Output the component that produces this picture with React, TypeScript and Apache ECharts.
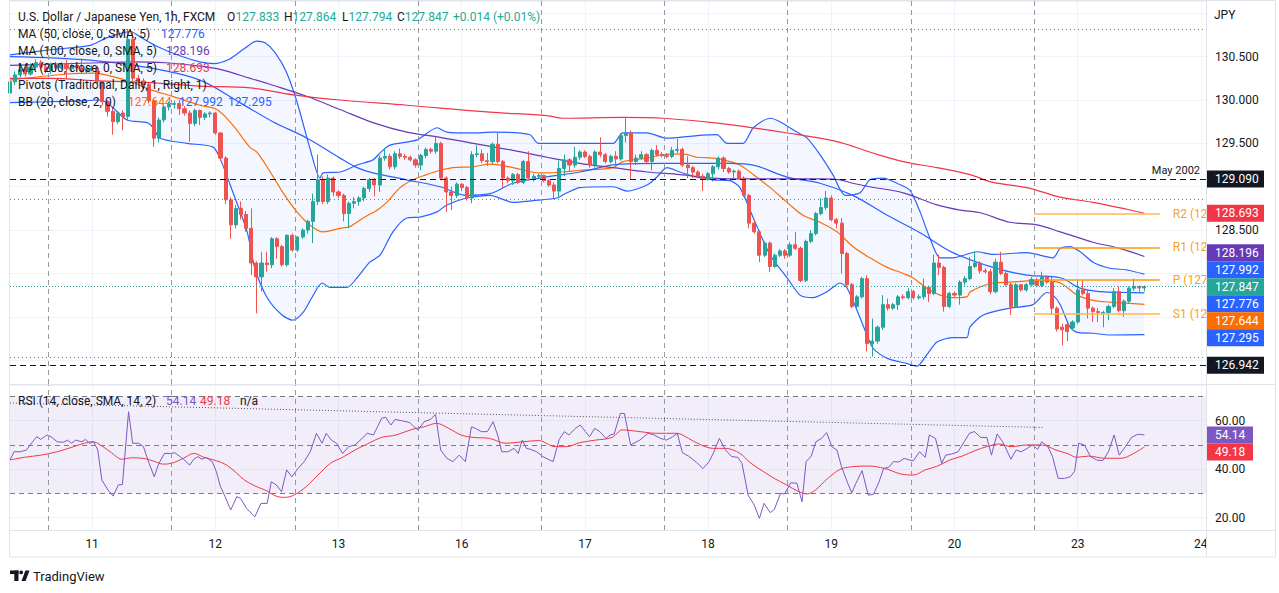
import { useEffect, useRef } from 'react';
import * as echarts from 'echarts';

const FONT = 'Roboto, "Noto Sans", sans-serif';
const INK = '#131722';
const GRID_LINE = '#F0F3FA';
const FRAME = '#E0E3EB';
const UP = '#26A69A';
const DOWN = '#EF5350';
const BLUE = '#2962FF';
const PURPLE = '#673AB7';
const RED = '#F23645';
const ORANGE = '#FF6D00';
const RSI_COLOR = '#7E57C2';
const PIVOT_COLOR = '#F7A21B';
const TEAL_TEXT = '#22AB94';

// hourly slots on the time axis, slot 0 = first (clipped) candle
const SLOT_COUNT = 234;
const SLOTS = Array.from({ length: SLOT_COUNT }, (_, i) => String(i));
const DAY_TICKS = [16, 40, 64, 88, 112, 136, 160, 184, 208, 232];
const DAY_LABELS = ['11', '12', '13', '16', '17', '18', '19', '20', '23', '24'];
const SESSION_BREAKS = [7.5, 31.5, 55.5, 79.5, 103.5, 127.5, 151.5, 175.5, 199.5];

// [open, close, low, high]
const CANDLES = [
  [130.08, 130.21, 130.04, 130.25], [130.21, 130.29, 130.17, 130.33], [130.29, 130.35, 130.26, 130.40],
  [130.35, 130.30, 130.27, 130.38], [130.30, 130.38, 130.28, 130.42], [130.38, 130.43, 130.35, 130.47],
  [130.43, 130.38, 130.35, 130.46], [130.38, 130.34, 130.31, 130.41], [130.34, 130.40, 130.30, 130.43],
  [130.40, 130.37, 130.33, 130.44], [130.37, 130.41, 130.35, 130.44], [130.41, 130.36, 130.24, 130.46],
  [130.36, 130.40, 130.33, 130.43], [130.40, 130.37, 130.34, 130.42], [130.37, 130.33, 130.30, 130.48],
  [130.33, 130.36, 130.31, 130.39], [130.36, 130.37, 130.33, 130.40], [130.37, 130.21, 130.19, 130.39],
  [130.21, 129.98, 129.94, 130.22], [129.98, 129.87, 129.81, 130.00], [129.87, 129.75, 129.60, 129.90],
  [129.75, 129.85, 129.72, 129.87], [129.85, 129.81, 129.65, 129.88], [129.81, 130.70, 129.76, 130.82],
  [130.70, 130.25, 130.20, 130.78], [130.25, 130.22, 130.17, 130.29], [130.22, 130.18, 130.12, 130.25],
  [130.18, 129.99, 129.96, 130.20], [129.99, 129.56, 129.46, 130.01], [129.56, 129.77, 129.51, 129.80],
  [129.77, 129.92, 129.74, 129.95], [129.92, 129.95, 129.88, 129.98], [129.95, 129.96, 129.90, 129.99],
  [129.96, 129.90, 129.83, 130.00], [129.90, 129.85, 129.82, 129.93], [129.85, 129.73, 129.52, 129.88],
  [129.73, 129.88, 129.70, 129.90], [129.88, 129.80, 129.71, 129.89], [129.80, 129.84, 129.77, 129.86],
  [129.84, 129.85, 129.80, 129.87], [129.85, 129.62, 129.60, 129.86], [129.62, 129.33, 129.30, 129.63],
  [129.33, 128.85, 128.80, 129.35], [128.85, 128.56, 128.40, 128.88], [128.56, 128.75, 128.52, 128.79],
  [128.75, 128.68, 128.62, 128.83], [128.68, 128.52, 128.48, 128.72], [128.52, 128.12, 127.98, 128.75],
  [128.12, 127.96, 127.54, 128.14], [127.96, 128.12, 127.79, 128.25], [128.12, 128.10, 128.02, 128.25],
  [128.10, 128.40, 128.06, 128.42], [128.40, 128.31, 128.17, 128.42], [128.31, 128.10, 128.08, 128.33],
  [128.10, 128.44, 128.08, 128.45], [128.44, 128.27, 128.25, 128.46], [128.27, 128.42, 128.25, 128.43],
  [128.42, 128.50, 128.40, 128.52], [128.50, 128.60, 128.46, 128.62], [128.60, 128.83, 128.35, 128.92],
  [128.83, 129.08, 128.79, 129.37], [129.08, 128.83, 128.80, 129.12], [128.83, 129.10, 128.80, 129.14],
  [129.10, 128.94, 128.89, 129.12], [128.94, 128.90, 128.87, 128.96], [128.90, 128.69, 128.60, 128.92],
  [128.69, 128.81, 128.52, 128.83], [128.81, 128.83, 128.75, 128.88], [128.83, 128.87, 128.78, 128.89],
  [128.87, 128.98, 128.83, 129.00], [128.98, 129.08, 128.94, 129.10], [129.08, 129.02, 128.89, 129.10],
  [129.02, 129.33, 128.94, 129.36], [129.33, 129.35, 129.30, 129.44], [129.35, 129.23, 129.20, 129.38],
  [129.23, 129.38, 129.20, 129.41], [129.38, 129.35, 129.32, 129.44], [129.35, 129.34, 129.31, 129.38],
  [129.34, 129.31, 129.29, 129.36], [129.31, 129.25, 129.22, 129.33], [129.25, 129.36, 129.19, 129.38],
  [129.36, 129.43, 129.33, 129.45], [129.43, 129.41, 129.38, 129.45], [129.41, 129.50, 129.38, 129.58],
  [129.50, 129.10, 129.08, 129.52], [129.10, 128.94, 128.71, 129.12], [128.94, 128.90, 128.73, 129.00],
  [128.90, 129.03, 128.87, 129.05], [129.03, 128.99, 128.95, 129.04], [128.99, 128.87, 128.84, 129.01],
  [128.87, 129.37, 128.81, 129.41], [129.37, 129.38, 129.34, 129.48], [129.38, 129.30, 129.27, 129.43],
  [129.30, 129.29, 129.24, 129.39], [129.29, 129.49, 129.26, 129.51], [129.49, 129.29, 129.27, 129.63],
  [129.29, 129.10, 128.99, 129.31], [129.10, 129.07, 129.04, 129.12], [129.07, 129.14, 129.02, 129.16],
  [129.14, 129.05, 129.03, 129.16], [129.05, 129.29, 129.03, 129.31], [129.29, 129.10, 129.08, 129.41],
  [129.10, 129.12, 129.06, 129.15], [129.12, 129.13, 129.10, 129.15], [129.13, 129.07, 129.05, 129.14],
  [129.07, 129.02, 129.00, 129.09], [129.02, 128.95, 128.87, 129.05], [128.95, 129.21, 128.87, 129.30],
  [129.21, 129.31, 129.12, 129.37], [129.31, 129.25, 129.17, 129.33], [129.25, 129.34, 129.22, 129.46],
  [129.34, 129.40, 129.31, 129.42], [129.40, 129.35, 129.33, 129.42], [129.35, 129.25, 129.22, 129.37],
  [129.25, 129.40, 129.22, 129.42], [129.40, 129.37, 129.34, 129.57], [129.37, 129.29, 129.27, 129.39],
  [129.29, 129.35, 129.27, 129.37], [129.35, 129.32, 129.21, 129.41], [129.32, 129.59, 129.30, 129.62],
  [129.59, 129.62, 129.51, 129.79], [129.62, 129.29, 129.08, 129.65], [129.29, 129.33, 129.25, 129.37],
  [129.33, 129.37, 129.31, 129.41], [129.37, 129.29, 129.27, 129.39], [129.29, 129.42, 129.19, 129.44],
  [129.42, 129.37, 129.35, 129.48], [129.37, 129.36, 129.34, 129.40], [129.36, 129.35, 129.33, 129.39],
  [129.35, 129.42, 129.33, 129.46], [129.42, 129.43, 129.39, 129.55], [129.43, 129.25, 129.23, 129.45],
  [129.25, 129.22, 129.10, 129.35], [129.22, 129.17, 129.10, 129.24], [129.17, 129.12, 129.10, 129.19],
  [129.12, 129.09, 128.95, 129.15], [129.09, 129.15, 129.07, 129.17], [129.15, 129.23, 129.06, 129.25],
  [129.23, 129.33, 129.20, 129.35], [129.33, 129.21, 129.17, 129.35], [129.21, 129.17, 129.15, 129.23],
  [129.17, 129.18, 129.08, 129.20], [129.18, 129.10, 129.08, 129.20], [129.10, 128.90, 128.88, 129.12],
  [128.90, 128.58, 128.52, 128.92], [128.58, 128.48, 128.46, 128.62], [128.48, 128.21, 128.13, 128.50],
  [128.21, 128.35, 128.19, 128.37], [128.35, 128.08, 128.02, 128.37], [128.08, 128.21, 128.06, 128.23],
  [128.21, 128.26, 128.19, 128.28], [128.26, 128.21, 128.17, 128.28], [128.21, 128.33, 128.19, 128.36],
  [128.33, 128.29, 128.27, 128.48], [128.29, 127.92, 127.90, 128.31], [127.92, 128.37, 127.90, 128.39],
  [128.37, 128.46, 128.35, 128.50], [128.46, 128.69, 128.44, 128.71], [128.69, 128.76, 128.67, 128.87],
  [128.76, 128.87, 128.73, 128.95], [128.87, 128.62, 128.60, 128.90], [128.62, 128.58, 128.52, 128.64],
  [128.58, 128.23, 128.00, 128.64], [128.23, 127.87, 127.85, 128.25], [127.87, 127.62, 127.60, 127.89],
  [127.62, 127.73, 127.60, 127.75], [127.73, 127.94, 127.71, 127.96], [127.94, 127.19, 127.10, 127.98],
  [127.19, 127.22, 127.04, 127.48], [127.22, 127.38, 127.19, 127.40], [127.38, 127.64, 127.35, 127.75],
  [127.64, 127.60, 127.57, 127.71], [127.60, 127.64, 127.58, 127.66], [127.64, 127.73, 127.58, 127.75],
  [127.73, 127.72, 127.70, 127.76], [127.72, 127.79, 127.70, 127.83], [127.79, 127.72, 127.70, 127.81],
  [127.72, 127.73, 127.70, 127.76], [127.73, 127.84, 127.70, 127.94], [127.84, 127.77, 127.67, 127.86],
  [127.77, 128.12, 127.75, 128.22], [128.12, 128.07, 127.98, 128.22], [128.07, 127.62, 127.56, 128.09],
  [127.62, 127.77, 127.60, 127.79], [127.77, 127.75, 127.73, 127.79], [127.75, 127.90, 127.64, 127.92],
  [127.90, 127.94, 127.86, 127.97], [127.94, 128.08, 127.92, 128.19], [128.08, 128.12, 128.06, 128.25],
  [128.12, 128.03, 128.00, 128.14], [128.03, 128.02, 128.00, 128.06], [128.02, 127.79, 127.76, 128.05],
  [127.79, 128.13, 127.77, 128.17], [128.13, 128.00, 127.98, 128.25], [128.00, 127.87, 127.85, 128.02],
  [127.87, 127.62, 127.52, 127.89], [127.62, 127.87, 127.60, 127.89], [127.87, 127.81, 127.79, 127.88],
  [127.81, 127.87, 127.79, 127.89], [127.87, 127.93, 127.85, 127.96], [127.93, 127.86, 127.84, 127.95],
  [127.86, 127.96, 127.84, 128.02], [127.96, 127.90, 127.88, 127.98], [127.90, 127.60, 127.52, 127.96],
  [127.60, 127.36, 127.33, 127.62], [127.38, 127.35, 127.17, 127.42], [127.41, 127.33, 127.22, 127.43],
  [127.37, 127.44, 127.35, 127.46], [127.44, 127.81, 127.42, 127.92], [127.81, 127.77, 127.75, 127.92],
  [127.77, 127.60, 127.48, 127.81], [127.60, 127.56, 127.44, 127.62], [127.56, 127.55, 127.44, 127.60],
  [127.54, 127.55, 127.38, 127.57], [127.55, 127.62, 127.46, 127.64], [127.62, 127.79, 127.60, 127.83],
  [127.79, 127.57, 127.55, 127.85], [127.57, 127.68, 127.50, 127.70], [127.68, 127.83, 127.66, 127.85],
  [127.83, 127.85, 127.80, 127.94], [127.85, 127.833, 127.77, 127.86], [127.833, 127.847, 127.794, 127.864],
];

// indicator readings as [slot, value]
const BB_UPPER = [
  [0, 130.52], [7.8, 130.58], [15.6, 130.63], [18.9, 130.72], [23.5, 130.79], [25.3, 130.73], [28.6, 130.62],
  [33.1, 130.51], [37, 130.44], [39.7, 130.42], [42.7, 130.47], [45.8, 130.6], [48.1, 130.68], [49.7, 130.66],
  [51.6, 130.55], [53.8, 130.33], [55.9, 129.98], [58.4, 129.45], [60.4, 129.1], [61, 129.16], [64.3, 129.17],
  [67.6, 129.25], [70.7, 129.31], [72.1, 129.39], [74, 129.48], [79.3, 129.54], [83.2, 129.68], [85.1, 129.63],
  [90.2, 129.62], [94.1, 129.63], [101.3, 129.6], [102.9, 129.5], [111, 129.5], [117.5, 129.5], [119.4, 129.62],
  [124.1, 129.62], [128, 129.56], [133.8, 129.59], [137.7, 129.6], [139.7, 129.5], [142.8, 129.5], [144.8, 129.68],
  [148.1, 129.79], [150, 129.75], [153.3, 129.63], [155.3, 129.56], [157.8, 129.37], [160.3, 129.14],
  [162.7, 128.9], [165.6, 128.93], [167.5, 129.08], [170.1, 129.1], [172.8, 129.04], [175.3, 128.96],
  [177.3, 128.71], [179.2, 128.41], [181.2, 128.18], [183.7, 128.18], [188.4, 128.25], [191.5, 128.22],
  [198.1, 128.24], [203.2, 128.18], [204.6, 128.29], [206.5, 128.31], [208.5, 128.25], [211, 128.13],
  [214.3, 128.06], [217.6, 128.04], [221, 127.992],
];
const BB_LOWER = [
  [0, 129.97], [7.8, 129.98], [14.2, 129.99], [17.5, 130.0], [19.5, 129.94], [22.8, 129.77], [26.7, 129.74],
  [27.9, 129.68], [29.2, 129.56], [34.5, 129.5], [39.5, 129.46], [40.9, 129.33], [43.4, 128.94], [46.2, 128.48],
  [47.7, 128.06], [50.1, 127.72], [53, 127.52], [55.1, 127.46], [57.1, 127.55], [58.8, 127.72], [60.8, 127.89],
  [62.3, 127.84], [65.7, 127.84], [67.6, 127.95], [70.1, 128.13], [72.1, 128.21], [74.6, 128.48], [77.3, 128.64],
  [79.9, 128.65], [83.2, 128.71], [85.1, 128.79], [89, 128.87], [93.5, 128.9], [98, 128.82], [101.9, 128.84],
  [106.6, 128.87], [108.5, 128.93], [111, 128.99], [117.5, 129.0], [120.2, 128.95], [124.1, 129.02], [126, 129.11],
  [128, 129.22], [130.5, 129.17], [133.8, 129.11], [137, 129.08], [140.3, 129.07], [142.2, 128.99], [144.8, 128.64],
  [148.1, 128.21], [151.4, 127.95], [153.9, 127.75], [156.4, 127.72], [159.2, 127.79], [161.7, 127.89],
  [163.1, 127.83], [165.6, 127.49], [168.1, 127.14], [170.9, 127.02], [174.8, 126.96], [176.7, 126.93],
  [178.6, 127.06], [180.6, 127.21], [183.7, 127.26], [186.4, 127.26], [187, 127.38], [189.6, 127.52],
  [194.8, 127.6], [199.3, 127.64], [202, 127.78], [203.2, 127.75], [204.6, 127.64], [206.5, 127.38],
  [207.9, 127.32], [211, 127.31], [214.3, 127.29], [221, 127.295],
];
const BB_BASIS = [
  [0, 130.23], [11.1, 130.3], [16.2, 130.31], [20.1, 130.27], [24, 130.2], [27.3, 130.12], [31.8, 130.04],
  [37, 129.94], [40.3, 129.89], [43.4, 129.71], [46.8, 129.45], [48.1, 129.4], [50.7, 129.17], [53.2, 128.93],
  [55.9, 128.71], [58.4, 128.56], [61, 128.48], [64.3, 128.52], [66.2, 128.54], [68.8, 128.64], [71.5, 128.73],
  [73.4, 128.82], [76, 128.99], [78.5, 129.08], [81.2, 129.14], [83.8, 129.19], [86.3, 129.22], [90.2, 129.23],
  [93.5, 129.26], [98, 129.22], [103.3, 129.16], [107.7, 129.17], [111, 129.19], [117.5, 129.22], [119.4, 129.29],
  [124.1, 129.33], [127.2, 129.37], [131.1, 129.38], [133.8, 129.34], [137, 129.33], [140.3, 129.29],
  [142.2, 129.25], [144.8, 129.14], [148.1, 128.99], [151.4, 128.82], [154.5, 128.67], [157.8, 128.59],
  [161.1, 128.48], [164.2, 128.31], [167.5, 128.18], [170.9, 128.07], [174, 128.0], [175.9, 127.95],
  [178.6, 127.83], [181.2, 127.75], [183.7, 127.72], [186.4, 127.73], [187.1, 127.79], [191.5, 127.89],
  [194.8, 127.9], [201.1, 127.92], [204.6, 127.89], [207.9, 127.75], [211, 127.69], [214.3, 127.67], [221, 127.644],
];
const MA50 = [
  [0, 130.5], [15.6, 130.46], [27.3, 130.37], [37, 130.23], [44.8, 129.97], [51.2, 129.75], [57.9, 129.56],
  [64.3, 129.33], [67.6, 129.22], [70.7, 129.16], [77.3, 129.08], [83.8, 129.0], [89, 128.9], [93.5, 128.92],
  [98, 129.04], [103.3, 129.1], [111, 129.17], [118.8, 129.26], [127.2, 129.27], [133.8, 129.27], [140.3, 129.27],
  [144.8, 129.25], [151.4, 129.11], [157.8, 129.04], [164.2, 128.9], [170.9, 128.67], [177.3, 128.47],
  [183.7, 128.24], [191.5, 128.07], [198.1, 127.98], [204.6, 127.95], [208.5, 127.83], [212.4, 127.79],
  [217.6, 127.78], [221, 127.776],
];
const MA100 = [
  [0, 130.4], [17.5, 130.43], [24, 130.44], [30.2, 130.43], [37, 130.39], [41.1, 130.35], [46.8, 130.25],
  [51.2, 130.17], [57.9, 130.04], [64.3, 129.89], [70.7, 129.74], [77.3, 129.63], [83.8, 129.57], [90.2, 129.5],
  [98, 129.42], [104.6, 129.34], [111, 129.27], [117.5, 129.22], [124.1, 129.17], [130.5, 129.14], [137, 129.1],
  [144.8, 129.09], [151.4, 129.09], [157.8, 129.09], [161.7, 129.08], [164.2, 129.04], [167.5, 129.0],
  [174, 128.93], [180.6, 128.79], [185.1, 128.73], [189, 128.7], [194.8, 128.59], [200.1, 128.56],
  [204.6, 128.48], [211, 128.36], [216.2, 128.29], [221, 128.196],
];
const MA200 = [
  [0, 130.25], [7.8, 130.25], [17.5, 130.22], [27.3, 130.2], [37, 130.16], [46.8, 130.14], [55.1, 130.06],
  [64.3, 130.0], [77.3, 129.94], [93.5, 129.86], [104.6, 129.82], [107.7, 129.79], [119.4, 129.8], [127.2, 129.79],
  [138.3, 129.73], [151.4, 129.62], [161.1, 129.52], [167.5, 129.4], [174, 129.29], [180.6, 129.22],
  [187, 129.14], [191.5, 129.05], [198.1, 128.99], [204.6, 128.88], [211, 128.82], [217.6, 128.74], [221, 128.693],
];
const RSI = [
  [0, 43.8], [0.8, 47.2], [2, 47.2], [3.2, 47.9], [4.4, 51.3], [5.2, 53.4], [6, 52.3], [7.2, 54.1], [8, 53.4],
  [9.2, 51.3], [10.4, 51.1], [11.2, 52.0], [12, 50.7], [12.8, 52.0], [14, 51.3], [14.7, 52.3], [15.5, 50.7],
  [16.3, 51.3], [17.1, 47.9], [17.9, 35.5], [19.1, 31.4], [20.1, 28.9], [21.1, 33.5], [21.9, 33.7], [23.1, 63.7],
  [23.9, 50.7], [25.1, 50.7], [26, 49.3], [27.1, 42.4], [28.1, 36.9], [29, 42.4], [30.1, 46.5], [31.3, 46.5],
  [32.1, 46.8], [33, 45.4], [33.8, 44.1], [35, 41.7], [35.8, 44.1], [36.6, 45.2], [37.4, 44.1], [38.2, 44.9],
  [39.4, 43.1], [40.2, 39.0], [41, 32.8], [41.9, 28.7], [43, 23.2], [44.2, 28.7], [44.9, 28.0], [46.1, 23.8],
  [47.7, 20.4], [48.9, 25.9], [50.1, 25.9], [50.9, 34.8], [51.9, 33.5], [52.9, 30.7], [53.9, 39.7], [54.9, 36.9],
  [56.1, 40.3], [57.3, 43.1], [58.5, 47.2], [59.7, 54.8], [60.8, 50.7], [61.6, 54.8], [62.6, 52.0], [63.6, 50.7],
  [64.8, 46.5], [66, 49.3], [67.2, 50.0], [68.4, 52.3], [69.6, 54.8], [70.8, 54.1], [71.6, 57.5], [72.4, 61.0],
  [73.2, 61.4], [74.2, 58.2], [75, 60.5], [76.3, 60.0], [77.9, 59.2], [78.7, 57.5], [79.5, 56.2], [80.7, 59.6],
  [81.9, 60.5], [82.9, 62.6], [83.9, 47.9], [85.1, 44.5], [86.3, 43.1], [87.5, 45.8], [88.7, 43.1], [89.9, 57.5],
  [90.7, 56.8], [91.8, 55.5], [93, 55.5], [94.1, 59.6], [95, 54.1], [95.8, 47.2], [97, 47.2], [98.2, 48.6],
  [99, 46.5], [99.8, 52.0], [100.6, 48.6], [101.4, 48.2], [102.6, 47.2], [103.8, 45.2], [105.8, 43.1],
  [107, 52.3], [108, 55.5], [108.9, 54.1], [110.1, 56.8], [111.1, 58.2], [112.1, 55.5], [112.9, 53.4],
  [113.9, 56.8], [114.9, 55.5], [116.1, 52.7], [116.9, 54.1], [117.7, 54.5], [118.9, 63.0], [119.7, 63.0],
  [120.9, 50.0], [122.7, 52.0], [124.3, 54.8], [125.5, 54.1], [126.7, 52.7], [127.9, 52.0], [129.1, 53.4],
  [130, 54.8], [131, 46.8], [132.2, 45.4], [133.8, 42.7], [135, 40.3], [136.2, 43.1], [137, 46.5], [138.2, 52.7],
  [139.4, 47.9], [140.6, 45.2], [141.8, 44.9], [142.6, 42.4], [143.8, 29.3], [145, 25.2], [146, 19.7],
  [146.9, 25.9], [148.1, 22.1], [148.9, 23.4], [150.1, 30.0], [150.9, 29.8], [152.1, 34.4], [153.3, 34.2],
  [154.3, 26.6], [155.1, 43.1], [156.1, 45.4], [157, 51.3], [158.1, 52.7], [159.1, 55.1], [160.1, 49.3],
  [161.1, 47.9], [162, 41.0], [163.2, 34.2], [164, 30.3], [164.8, 34.2], [166, 39.4], [167.2, 29.3], [168.2, 29.6],
  [169.2, 34.2], [170.2, 40.3], [171.2, 40.8], [172.1, 43.1], [173.2, 43.0], [174.2, 44.5], [175.2, 43.8],
  [176, 43.5], [177.2, 47.2], [178.3, 44.9], [179.1, 54.1], [180.3, 52.7], [181.5, 42.4], [182.3, 45.8],
  [183.5, 46.3], [184.7, 47.2], [185.9, 51.3], [186.9, 54.8], [187.9, 55.5], [189.1, 53.1], [190.3, 53.1],
  [191.2, 45.8], [192.3, 54.5], [193.4, 51.3], [195, 44.1], [196, 47.9], [197, 47.2], [198.2, 48.6], [199.2, 50.0],
  [200.2, 48.2], [201, 51.3], [202.2, 49.3], [203.1, 45.2], [204.2, 36.2], [205.4, 36.2], [206.6, 36.9],
  [207.4, 39.2], [208.2, 50.7], [209.3, 50.0], [210.5, 45.2], [211.7, 43.8], [212.9, 43.5], [214, 47.2],
  [215.1, 54.1], [216.1, 45.8], [217.3, 49.3], [218.5, 53.1], [219.7, 54.4], [221, 54.14],
];
const RSI_MA = [
  [0, 43.8], [2.8, 44.9], [6, 45.8], [9.2, 47.2], [12.4, 49.3], [14, 50.4], [15.9, 51.3], [17.1, 50.7],
  [19.5, 47.2], [21.9, 44.1], [23.5, 44.7], [25.9, 44.5], [28.3, 43.1], [29.8, 42.1], [31.4, 42.4], [33.8, 44.5],
  [35.8, 46.5], [37.8, 44.9], [40.2, 43.5], [42.2, 41.7], [44.2, 38.3], [45.7, 35.5], [47.7, 33.1], [49.7, 31.4],
  [52.1, 28.7], [53.7, 28.4], [55.3, 29.3], [57.7, 32.8], [60, 37.6], [62.4, 42.4], [64.8, 44.9], [67.2, 47.9],
  [69.6, 50.4], [72.4, 53.1], [75.2, 54.1], [78.3, 56.4], [80.7, 57.5], [83.1, 58.9], [85.5, 56.8], [87.9, 54.1],
  [90.3, 53.1], [93.4, 52.7], [96.6, 50.7], [99.8, 51.3], [103, 51.8], [106.2, 49.3], [108.5, 49.3],
  [110.9, 50.9], [114.1, 52.0], [117.3, 53.1], [119.3, 56.2], [122.7, 55.5], [125.9, 54.8], [129.9, 54.8],
  [132.2, 52.7], [134.6, 50.0], [137, 48.6], [139.4, 48.6], [142.2, 46.5], [144.2, 42.7], [146.5, 39.4],
  [148.9, 36.2], [151.3, 33.5], [153.7, 30.7], [155.3, 29.8], [156.9, 31.4], [159.3, 36.2], [161.7, 39.9],
  [164, 41.0], [167.2, 41.3], [170.4, 40.3], [173.6, 38.0], [176, 37.6], [178.3, 39.7], [180.7, 41.3],
  [183.1, 43.8], [185.5, 45.4], [187.9, 47.6], [190.3, 49.3], [192.7, 50.4], [195, 49.3], [198.2, 50.0],
  [201, 50.0], [203.8, 47.9], [206.2, 46.3], [207.8, 44.9], [210.1, 45.4], [213.3, 44.5], [216.5, 44.5],
  [218.9, 46.5], [221, 49.18],
];
const RSI_TREND = [[0, 67.3], [201.5, 57.2]];

// horizontal levels
const BLACK_LEVELS = [{ value: 129.09, note: 'May 2002' }, { value: 126.942, note: '' }];
const DOTTED_LEVELS = [130.82, 128.86, 127.03];
const LAST_PRICE = 127.847;
const PIVOTS = [
  { name: 'R2', value: 128.685, color: '#FFB74D' },
  { name: 'R1', value: 128.3, color: '#FF9800' },
  { name: 'P', value: 127.925, color: '#FF9800' },
  { name: 'S1', value: 127.53, color: '#FFB74D' },
];
const PIVOT_FROM = 199.5;
const PIVOT_TO = 224;

const OHLC = { o: 127.833, h: 127.864, l: 127.794, c: 127.847 };
const CHANGE = '+0.014 (+0.01%)';
const SYMBOL = 'U.S. Dollar / Japanese Yen, 1h, FXCM';
const MA_LEGENDS = [
  { label: 'MA (50, close, 0, SMA, 5)', value: 127.776, color: BLUE },
  { label: 'MA (100, close, 0, SMA, 5)', value: 128.196, color: PURPLE },
  { label: 'MA (200, close, 0, SMA, 5)', value: 128.693, color: RED },
];
const BB_LEGEND = { label: 'BB (20, close, 2, 0)', values: [127.644, 127.992, 127.295], colors: [ORANGE, BLUE, BLUE] };
const RSI_LEGEND = { label: 'RSI (14, close, SMA, 14, 2)', rsi: 54.14, ma: 49.18 };

const PRICE_BADGES = [
  { value: 129.09, color: INK },
  { value: 128.693, color: RED },
  { value: 128.196, color: PURPLE },
  { value: 127.992, color: BLUE },
  { value: 127.847, color: UP },
  { value: 127.776, color: BLUE },
  { value: 127.644, color: ORANGE },
  { value: 127.295, color: BLUE },
  { value: 126.942, color: INK },
];
const RSI_BADGES = [
  { value: 54.14, color: RSI_COLOR },
  { value: 49.18, color: RED },
];

const dayInterval = (index: number) => DAY_TICKS.includes(index);
const dayLabel = (value: string) => {
  const i = DAY_TICKS.indexOf(Number(value));
  return i >= 0 ? DAY_LABELS[i] : '';
};

const line = (data: number[][], color: string, extra: any = {}) => ({
  type: 'line',
  xAxisIndex: 1,
  yAxisIndex: 0,
  data,
  showSymbol: false,
  smooth: 0.35,
  silent: true,
  lineStyle: { color, width: 1.2 },
  z: 2,
  ...extra,
});

const sessionLines = () => ({
  silent: true,
  symbol: ['none', 'none'],
  label: { show: false },
  lineStyle: { color: '#9598A1', type: [5, 4], width: 1 },
  data: SESSION_BREAKS.map((x) => ({ xAxis: x })),
});

function buildOption(): any {
  return {
    animation: false,
    backgroundColor: '#ffffff',
    textStyle: { fontFamily: FONT },
    grid: [
      { left: 10, top: 1, width: 1196, height: 383 },
      { left: 10, top: 385, width: 1196, height: 145 },
    ],
    xAxis: [
      {
        type: 'category', gridIndex: 0, data: SLOTS, boundaryGap: false,
        axisLine: { show: false }, axisTick: { show: false }, axisLabel: { show: false },
        splitLine: { show: true, interval: dayInterval, lineStyle: { color: GRID_LINE } },
      },
      { type: 'value', gridIndex: 0, min: 0, max: SLOT_COUNT - 1, show: false },
      {
        type: 'category', gridIndex: 1, data: SLOTS, boundaryGap: false,
        axisLine: { show: false }, axisTick: { show: false },
        axisLabel: { show: true, interval: dayInterval, formatter: dayLabel, color: INK, fontSize: 12, margin: 8 },
        splitLine: { show: true, interval: dayInterval, lineStyle: { color: GRID_LINE } },
      },
      { type: 'value', gridIndex: 1, min: 0, max: SLOT_COUNT - 1, show: false },
    ],
    yAxis: [
      {
        type: 'value', gridIndex: 0, position: 'right', min: 126.725, max: 131.142, splitNumber: 9,
        axisLine: { show: false }, axisTick: { show: false },
        axisLabel: {
          color: INK, fontSize: 12, margin: 9, showMinLabel: false, showMaxLabel: false,
          formatter: (v: number) => v.toFixed(3),
        },
        splitLine: { lineStyle: { color: GRID_LINE } },
      },
      {
        type: 'value', gridIndex: 1, position: 'right', min: 14.93, max: 74.72, splitNumber: 3,
        axisLine: { show: false }, axisTick: { show: false },
        axisLabel: {
          color: INK, fontSize: 12, margin: 9, showMinLabel: false, showMaxLabel: false,
          formatter: (v: number) => v.toFixed(2),
        },
        splitLine: { lineStyle: { color: GRID_LINE } },
      },
    ],
    series: [
      {
        type: 'custom',
        xAxisIndex: 1,
        yAxisIndex: 0,
        data: [[0, 130]],
        silent: true,
        clip: true,
        z: 1,
        renderItem: (_params: any, api: any) => {
          const points = [
            ...BB_UPPER.map((p) => api.coord(p)),
            ...BB_LOWER.slice().reverse().map((p) => api.coord(p)),
          ];
          return { type: 'polygon', shape: { points }, style: { fill: 'rgba(41, 98, 255, 0.05)' } };
        },
      },
      line(BB_UPPER, BLUE, { smooth: 0.25 }),
      line(BB_LOWER, BLUE, { smooth: 0.25 }),
      line(BB_BASIS, ORANGE, { markLine: sessionLines() }),
      line(MA50, BLUE, {
        markLine: {
          silent: true,
          symbol: ['none', 'none'],
          data: PIVOTS.map((p) => [
            {
              coord: [PIVOT_FROM, p.value],
              lineStyle: { color: p.color, width: 1.5, type: 'solid' },
              label: {
                show: true, position: 'end', distance: 13, color: PIVOT_COLOR, fontSize: 12,
                formatter: `${p.name} (${p.value.toFixed(3)})`.slice(0, 6),
              },
            },
            { coord: [PIVOT_TO, p.value] },
          ]),
        },
      }),
      line(MA100, PURPLE),
      line(MA200, RED),
      {
        type: 'candlestick',
        xAxisIndex: 0,
        yAxisIndex: 0,
        data: CANDLES,
        barWidth: '70%',
        silent: true,
        z: 3,
        itemStyle: { color: UP, color0: DOWN, borderColor: UP, borderColor0: DOWN, borderWidth: 1 },
        markLine: {
          silent: true,
          symbol: ['none', 'none'],
          label: { show: false },
          data: [
            ...BLACK_LEVELS.map((l) => ({
              yAxis: l.value,
              lineStyle: { color: INK, type: [6, 4], width: 1 },
              label: {
                show: l.note !== '', position: 'insideEndTop', formatter: l.note,
                color: INK, fontSize: 11, distance: [6, 3],
              },
            })),
            ...DOTTED_LEVELS.map((v) => ({ yAxis: v, lineStyle: { color: '#787B86', type: [1, 3], width: 1 } })),
            { yAxis: LAST_PRICE, lineStyle: { color: UP, type: [1, 2], width: 1 } },
          ],
        },
      },
      {
        type: 'line',
        xAxisIndex: 3,
        yAxisIndex: 1,
        data: RSI,
        showSymbol: false,
        silent: true,
        lineStyle: { color: RSI_COLOR, width: 1 },
        z: 3,
        markArea: {
          silent: true,
          itemStyle: { color: 'rgba(126, 87, 194, 0.1)' },
          data: [[{ yAxis: 70 }, { yAxis: 30 }]],
        },
        markLine: {
          silent: true,
          symbol: ['none', 'none'],
          label: { show: false },
          data: [
            ...[70, 50, 30].map((v) => ({ yAxis: v, lineStyle: { color: '#787B86', type: [5, 4], width: 1 } })),
            ...SESSION_BREAKS.map((x) => ({ xAxis: x, lineStyle: { color: '#9598A1', type: [5, 4], width: 1 } })),
            [
              { coord: RSI_TREND[0], lineStyle: { color: '#50535E', type: [1, 2], width: 1 } },
              { coord: RSI_TREND[1] },
            ],
          ],
        },
      },
      {
        type: 'line',
        xAxisIndex: 3,
        yAxisIndex: 1,
        data: RSI_MA,
        showSymbol: false,
        smooth: 0.35,
        silent: true,
        lineStyle: { color: RED, width: 1 },
        z: 2,
      },
    ],
  };
}

type Badge = { value: number; color: string; y: number };

// keep the anchor (last price) in place and push the others away from it
function stackBadges(items: Badge[], anchor: number, gap: number) {
  const sorted = [...items].sort((a, b) => a.y - b.y);
  const ai = sorted.findIndex((b) => b.value === anchor);
  for (let i = ai - 1; i >= 0; i--) sorted[i].y = Math.min(sorted[i].y, sorted[i + 1].y - gap);
  for (let i = ai + 1; i < sorted.length; i++) sorted[i].y = Math.max(sorted[i].y, sorted[i - 1].y + gap);
  return sorted;
}

const txt = (x: number, y: number, text: string, fill: string, size = 12, extra: any = {}) => ({
  type: 'text',
  x,
  y,
  z: 100,
  silent: true,
  style: { text, fill, fontSize: size, fontFamily: FONT, align: 'left', verticalAlign: 'middle', ...extra },
});

const JPY_Y = 15;

function priceBadgeLayout(chart: any) {
  return stackBadges(
    PRICE_BADGES.map((b) => ({ ...b, y: chart.convertToPixel({ yAxisIndex: 0 }, b.value) as number })),
    LAST_PRICE,
    17,
  );
}

function buildGraphic(chart: any, priceItems: Badge[]) {
  const els: any[] = [];

  // frame and pane separators
  els.push({ type: 'line', z: 90, silent: true, shape: { x1: 9.5, y1: 384.5, x2: 1275.5, y2: 384.5 }, style: { stroke: FRAME, lineWidth: 1 } });
  els.push({ type: 'rect', z: 95, silent: true, shape: { x: 1207, y: 531, width: 68, height: 26 }, style: { fill: '#ffffff' } });
  els.push({ type: 'line', z: 96, silent: true, shape: { x1: 9.5, y1: 530.5, x2: 1275.5, y2: 530.5 }, style: { stroke: FRAME, lineWidth: 1 } });
  els.push({ type: 'line', z: 96, silent: true, shape: { x1: 1206.5, y1: 0.5, x2: 1206.5, y2: 557 }, style: { stroke: FRAME, lineWidth: 1 } });
  els.push({ type: 'rect', z: 96, silent: true, shape: { x: 9.5, y: 0.5, width: 1266, height: 556.5 }, style: { fill: 'transparent', stroke: FRAME, lineWidth: 1 } });

  // header legend
  els.push(txt(18, 17, SYMBOL, INK));
  const ohlc: [string, number, number, number][] = [
    ['O', OHLC.o, 227, 235.5],
    ['H', OHLC.h, 284, 292.6],
    ['L', OHLC.l, 342, 348.5],
    ['C', OHLC.c, 397, 404.8],
  ];
  ohlc.forEach(([k, v, x1, x2]) => {
    els.push(txt(x1, 17, k, INK));
    els.push(txt(x2, 17, v.toFixed(3), TEAL_TEXT));
  });
  els.push(txt(453, 17, CHANGE, TEAL_TEXT));

  const valueX = [161, 166, 166];
  MA_LEGENDS.forEach((m, i) => {
    const y = 34 + i * 17;
    els.push(txt(18, y, m.label, INK));
    els.push(txt(valueX[i], y, m.value.toFixed(3), m.color));
  });
  els.push(txt(18, 85, 'Pivots (Traditional, Daily, 1, Right, 1)', INK));
  els.push(txt(18, 102, BB_LEGEND.label, INK));
  [128, 179, 228].forEach((x, i) => els.push(txt(x, 102, BB_LEGEND.values[i].toFixed(3), BB_LEGEND.colors[i])));

  // RSI legend
  els.push(txt(18, 401, RSI_LEGEND.label, INK));
  els.push(txt(166, 401, RSI_LEGEND.rsi.toFixed(2), RSI_COLOR));
  els.push(txt(200, 401, RSI_LEGEND.ma.toFixed(2), RED));
  els.push(txt(240, 401, 'n/a', INK));

  // axis title
  els.push(txt(1214, JPY_Y, 'JPY', INK));

  // price badges
  priceItems.forEach((b) => {
    els.push({ type: 'rect', z: 101, silent: true, shape: { x: 1207, y: b.y - 8.5, width: 57, height: 17 }, style: { fill: b.color } });
    els.push({ ...txt(1215, b.y, b.value.toFixed(3), '#ffffff'), z: 102 });
  });

  const rsiItems = stackBadges(
    RSI_BADGES.map((b) => ({ ...b, y: chart.convertToPixel({ yAxisIndex: 1 }, b.value) as number })),
    RSI_BADGES[0].value,
    17,
  );
  rsiItems.forEach((b) => {
    els.push({ type: 'rect', z: 101, silent: true, shape: { x: 1207, y: b.y - 8.5, width: 46, height: 17 }, style: { fill: b.color } });
    els.push({ ...txt(1215, b.y, b.value.toFixed(2), '#ffffff'), z: 102 });
  });

  // TradingView mark
  els.push({ type: 'rect', z: 100, silent: true, shape: { x: 10, y: 570.5, width: 8.5, height: 3.6 }, style: { fill: INK } });
  els.push({ type: 'rect', z: 100, silent: true, shape: { x: 14.3, y: 570.5, width: 4.2, height: 10.5 }, style: { fill: INK } });
  els.push({ type: 'circle', z: 100, silent: true, shape: { cx: 21.2, cy: 572.4, r: 1.9 }, style: { fill: INK } });
  els.push({ type: 'polygon', z: 100, silent: true, shape: { points: [[21.5, 581], [25.6, 581], [29.5, 570.5], [25.4, 570.5]] }, style: { fill: INK } });
  els.push(txt(33, 576, 'TradingView', INK, 13));

  return els;
}

export default function App() {
  const ref = useRef<HTMLDivElement>(null);

  useEffect(() => {
    if (!ref.current) return;
    const chart = echarts.init(ref.current, undefined, { renderer: 'svg' });
    chart.setOption(buildOption());

    const priceItems = priceBadgeLayout(chart);
    // price labels that sit under a badge (or the currency title) are not drawn
    const yA = chart.convertToPixel({ yAxisIndex: 0 }, 130.5) as number;
    const yB = chart.convertToPixel({ yAxisIndex: 0 }, 127) as number;
    const toPixel = (v: number) => yA + ((v - 130.5) * (yB - yA)) / (127 - 130.5);
    const occupied = [JPY_Y, ...priceItems.map((b) => b.y)];
    chart.setOption({
      yAxis: [
        {
          axisLabel: {
            formatter: (v: number) =>
              occupied.some((o) => Math.abs(o - toPixel(v)) < 13) ? '' : v.toFixed(3),
          },
        },
        {},
      ],
      graphic: buildGraphic(chart, priceItems),
    });

    return () => {
      chart.dispose();
    };
  }, []);

  return (
    <div
      ref={ref}
      style={{ position: 'fixed', left: 0, top: 0, width: 1279, height: 593, background: '#ffffff' }}
    />
  );
}
